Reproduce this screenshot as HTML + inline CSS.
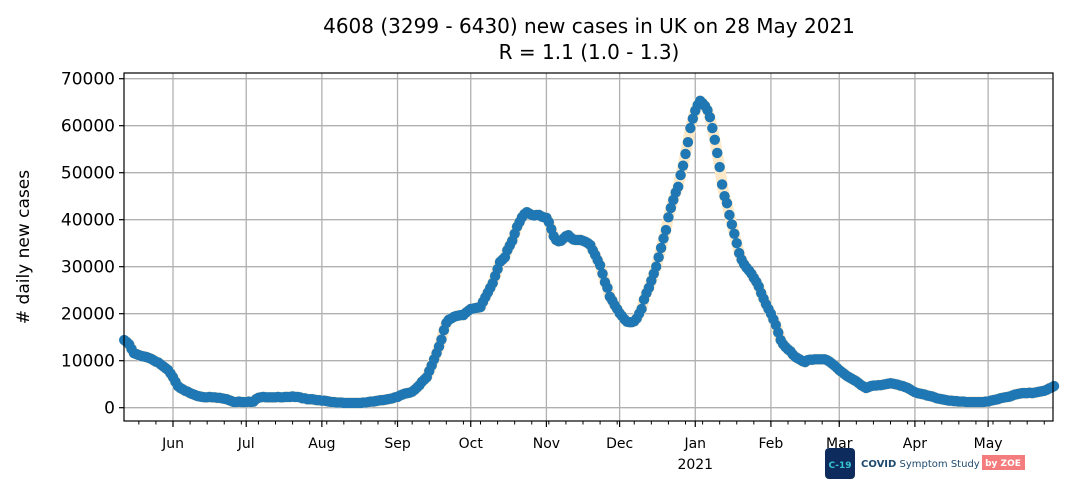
<!DOCTYPE html>
<html><head><meta charset="utf-8"><style>
html,body{margin:0;padding:0;background:#fff;}
svg{display:block;font-family:"DejaVu Sans","Liberation Sans",sans-serif;}
</style></head><body>
<svg id="chart" width="1069" height="489" viewBox="0 0 1069 489">
  <rect x="0" y="0" width="1069" height="489" fill="#fff"/>
  <text x="589" y="33" font-size="20" text-anchor="middle" fill="#000">4608 (3299 - 6430) new cases in UK on 28 May 2021</text>
  <text x="589" y="59" font-size="20" text-anchor="middle" fill="#000">R = 1.1 (1.0 - 1.3)</text>
  <g id="grid"></g>
  <g id="marks"></g>
  <rect x="124" y="73" width="929" height="348" fill="none" stroke="#000" stroke-width="1.2"/>
  <g id="axes"></g>
  <text transform="translate(29,247) rotate(-90)" font-size="17" text-anchor="middle" fill="#000"># daily new cases</text>
  <g>
    <rect x="825" y="448" width="30" height="31" rx="4" fill="#0d2b5c"/>
    <text x="840" y="468" font-size="9" text-anchor="middle" fill="#36c6d3" font-weight="bold">C-19</text>
    <text x="861" y="467" font-size="10" fill="#1f4a6e"><tspan font-weight="bold">COVID</tspan> Symptom Study</text>
    <rect x="982" y="455" width="43" height="15" fill="#f47c7c"/>
    <text x="1003" y="466" font-size="9" text-anchor="middle" fill="#fff" font-weight="bold">by ZOE</text>
  </g>
</svg>
<script>
// Data (thousands of daily new cases), daily from 12 May 2020 to 28 May 2021
const startOffsetDays = -20; // first point relative to 1 Jun 2020
const casesK = [
14.4,14.0,13.5,12.5,11.6,11.4,11.2,11.0,10.9,10.8,
10.6,10.4,10.1,9.8,9.6,9.2,8.8,8.4,8.0,7.3,
6.5,5.5,4.6,4.2,3.9,3.6,3.4,3.1,2.9,2.7,
2.5,2.4,2.3,2.2,2.2,2.3,2.2,2.2,2.1,2.1,
2.0,1.9,1.8,1.6,1.4,1.2,1.2,1.3,1.2,1.2,
1.2,1.3,1.2,1.3,1.8,2.1,2.2,2.3,2.2,2.2,
2.2,2.2,2.2,2.3,2.2,2.2,2.3,2.3,2.3,2.4,
2.3,2.3,2.2,2.0,2.0,1.8,1.8,1.8,1.7,1.6,
1.6,1.5,1.5,1.4,1.3,1.2,1.2,1.1,1.1,1.1,
1.0,1.0,1.0,1.0,1.0,1.0,1.0,1.0,1.1,1.1,
1.2,1.3,1.3,1.4,1.5,1.6,1.6,1.7,1.8,1.9,
2.0,2.2,2.3,2.6,2.8,3.0,3.1,3.2,3.4,3.8,
4.3,4.8,5.5,6.0,6.5,7.8,9.0,10.3,11.6,13.0,
14.5,16.5,18.0,18.7,19.0,19.3,19.5,19.6,19.7,19.7,
20.2,20.6,21.0,21.1,21.2,21.3,21.4,22.5,23.5,24.5,
25.5,26.5,28.0,29.5,31.0,31.5,32.0,33.5,34.5,35.5,
37.0,38.5,39.5,40.5,41.2,41.6,41.3,41.0,40.9,41.0,
41.0,40.7,40.5,40.4,39.5,38.0,36.5,35.7,35.4,35.5,
36.0,36.5,36.7,36.2,35.8,35.7,35.7,35.7,35.5,35.3,
35.0,34.6,33.5,32.5,31.4,30.3,28.5,26.7,25.5,23.6,
22.8,21.8,21.0,20.1,19.5,18.8,18.3,18.2,18.2,18.4,
19.0,20.0,21.0,23.0,24.4,25.5,27.0,28.5,30.0,32.0,
34.0,36.0,37.8,40.5,42.5,44.2,45.8,47.0,49.5,51.5,
54.0,56.5,59.5,61.5,63.2,64.4,65.3,64.8,64.2,63.3,
61.8,59.5,57.0,54.2,51.2,47.5,45.0,43.5,41.0,39.0,
37.0,35.0,32.9,31.5,30.5,29.8,29.2,28.5,27.6,26.8,
25.8,24.4,23.2,22.0,21.0,20.0,18.8,17.6,16.0,14.4,
13.5,12.9,12.4,12.0,11.3,10.8,10.5,10.2,9.9,9.7,
10.1,10.2,10.2,10.3,10.3,10.3,10.3,10.3,10.1,9.8,
9.4,9.0,8.5,8.0,7.6,7.2,6.8,6.5,6.2,5.9,
5.6,5.2,4.8,4.5,4.2,4.4,4.6,4.7,4.7,4.8,
4.8,4.9,5.0,5.1,5.2,5.1,5.0,4.9,4.7,4.6,
4.4,4.2,3.9,3.6,3.3,3.1,3.0,2.9,2.8,2.6,
2.5,2.4,2.2,2.0,1.9,1.8,1.7,1.6,1.5,1.5,
1.4,1.4,1.3,1.3,1.3,1.2,1.2,1.2,1.2,1.2,
1.2,1.2,1.2,1.3,1.3,1.5,1.6,1.7,1.8,2.0,
2.1,2.2,2.3,2.4,2.6,2.8,2.9,3.0,3.1,3.1,
3.1,3.2,3.1,3.2,3.3,3.4,3.5,3.6,3.8,4.1,4.3,4.6
];
const yTicks = [0,10000,20000,30000,40000,50000,60000,70000];
const monthLabels = ["Jun","Jul","Aug","Sep","Oct","Nov","Dec","Jan","Feb","Mar","Apr","May"];
const monthDays = [0,30,61,92,122,153,183,214,245,273,304,334]; // days since 1 Jun 2020

const NS = "http://www.w3.org/2000/svg";
const X0 = 173, PXD = 2.4405;
const xOf = d => X0 + d * PXD;
const Y0 = 407.7, PXV = 47.0 / 10000;
const yOf = v => Y0 - v * PXV;
const L = 124, R = 1053, T = 73, B = 421;

function mk(tag, attrs, parent) {
  const e = document.createElementNS(NS, tag);
  for (const k in attrs) e.setAttribute(k, attrs[k]);
  parent.appendChild(e);
  return e;
}
const grid = document.getElementById('grid');
const axes = document.getElementById('axes');
const marks = document.getElementById('marks');

yTicks.forEach(v => {
  const y = yOf(v);
  const g = mk('line', {x1: L, x2: R, y1: y, y2: y, stroke: '#b0b0b0', 'stroke-width': 1.3}, grid);
  
  
  const t = mk('line', {x1: L - 5, x2: L, y1: y, y2: y, stroke: '#000', 'stroke-width': 1.2}, axes);
  
  
  const lb = mk('text', {x: L - 9, y: y + 6, 'font-size': 17, 'text-anchor': 'end', fill: '#000'}, axes);
  lb.textContent = String(v);
  
  
});

monthDays.forEach((d, i) => {
  const x = xOf(d);
  const g = mk('line', {x1: x, x2: x, y1: T, y2: B, stroke: '#b0b0b0', 'stroke-width': 1.3}, grid);
  
  
  const t = mk('line', {x1: x, x2: x, y1: B, y2: B + 6, stroke: '#000', 'stroke-width': 1.2}, axes);
  
  
  const lb = mk('text', {x: x, y: B + 27, 'font-size': 14, 'text-anchor': 'middle', fill: '#000'}, axes);
  lb.textContent = monthLabels[i];
  
  
});
const yr = mk('text', {x: xOf(214), y: B + 48, 'font-size': 14, 'text-anchor': 'middle', fill: '#000'}, axes);
yr.textContent = '2021';



for (let d = -14; xOf(d) <= R + 0.5; d += 7) {
  if (xOf(d) < L) continue;
  const t = mk('line', {x1: xOf(d), x2: xOf(d), y1: B, y2: B + 3.5, stroke: '#000', 'stroke-width': 1}, axes);
  
  
}

const pts = casesK.map((v, i) => xOf(startOffsetDays + i).toFixed(2) + ',' + yOf(v * 1000).toFixed(2)).join(' ');
const halo = mk('polyline', {points: pts, fill: 'none', stroke: '#fde9c8', 'stroke-width': 11, 'stroke-linejoin': 'round'}, marks);



casesK.forEach((v, i) => {
  const c = mk('circle', {cx: xOf(startOffsetDays + i), cy: yOf(v * 1000), r: 5.2, fill: '#1f77b4'}, marks);
  
  
});
</script>
</body></html>
